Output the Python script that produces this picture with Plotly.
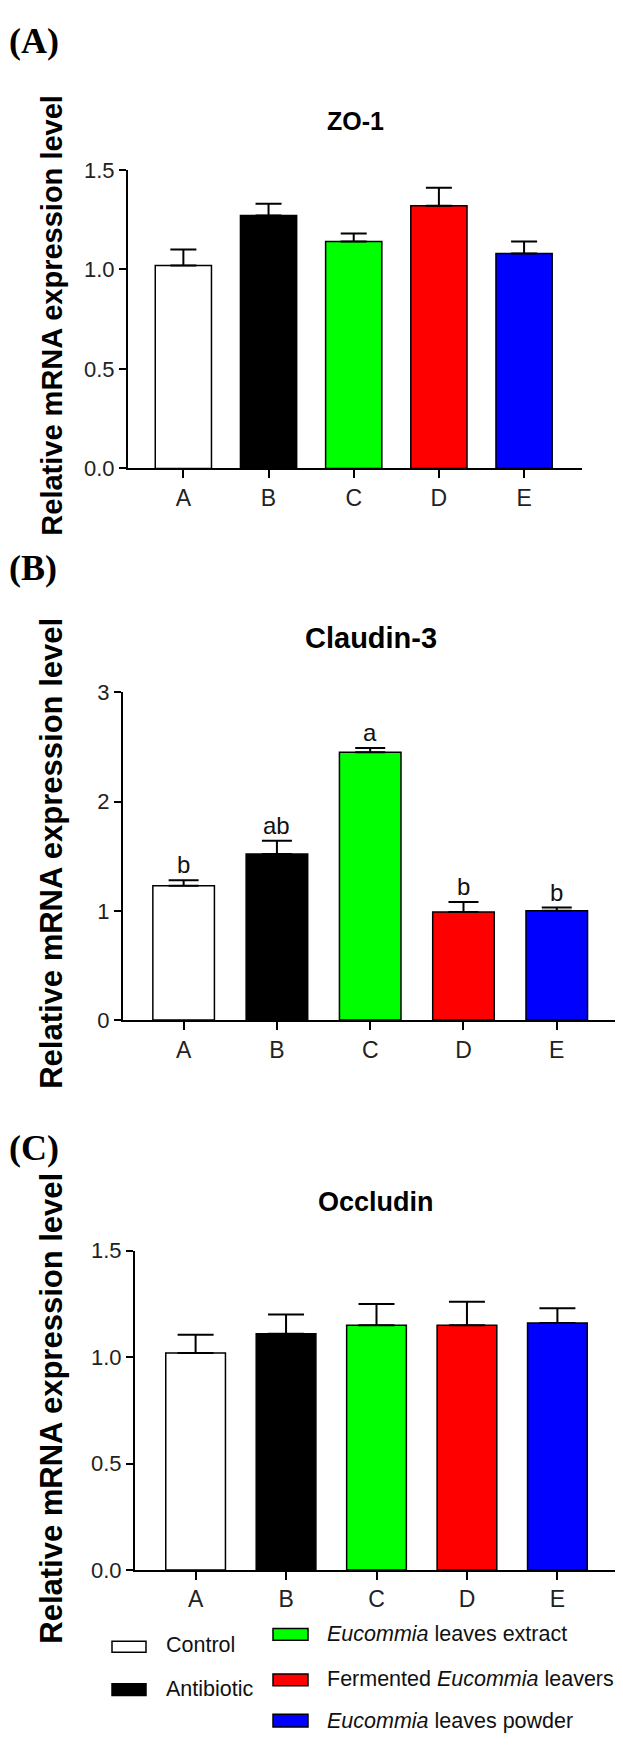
import plotly.graph_objects as go

# The browser adds an 8px body margin around the plot div, so the figure is
# made 8px smaller and page coordinates are shifted by 8px.
OFF = 8
W, H = 623 - OFF, 1747 - OFF

groups = ["A", "B", "C", "D", "E"]
colors = ["#FFFFFF", "#000000", "#00FF00", "#FF0000", "#0000FF"]
legend_labels = ["Control", "Antibiotic", "<i>Eucommia</i> leaves extract",
                 "Fermented <i>Eucommia</i> leavers", "<i>Eucommia</i> leaves powder"]

zo1_mean = [1.02, 1.27, 1.14, 1.32, 1.08]
zo1_err = [0.08, 0.06, 0.04, 0.09, 0.06]

cld3_mean = [1.23, 1.52, 2.45, 0.99, 1.00]
cld3_err = [0.05, 0.12, 0.04, 0.09, 0.03]
cld3_letters = ["b", "ab", "a", "b", "b"]

occ_mean = [1.02, 1.11, 1.15, 1.15, 1.16]
occ_err = [0.085, 0.09, 0.10, 0.11, 0.07]

titles = ["ZO-1", "Claudin-3", "Occludin"]
panel_tags = ["(A)", "(B)", "(C)"]
ytitle = "Relative mRNA expression level"

FONT = "Arial, 'Liberation Sans', sans-serif"
SERIF = "'Times New Roman', 'Liberation Serif', serif"


def px_x(p):
    return (p - OFF) / W


def px_y(p):
    return 1 - (p - OFF) / H


panels = [
    dict(mean=zo1_mean, err=zo1_err, xdom=[px_x(128), px_x(582)], ydom=[px_y(463), px_y(160)],
         xr=[-0.65, 4.68], yr=[0, 1.5], dtick=0.5, fmt=".1f", cap=13,
         title_xy=(355, 110), title_size=25, tag_y=19, yt_y=308, yt_size=29),
    dict(mean=cld3_mean, err=cld3_err, xdom=[px_x(123), 1.0], ydom=[px_y(1022.7), px_y(690)],
         xr=[-0.65, 4.71], yr=[0, 3], dtick=1, fmt="d", cap=15,
         title_xy=(371, 635), title_size=29, tag_y=564, yt_y=854, yt_size=31),
    dict(mean=occ_mean, err=occ_err, xdom=[px_x(135), px_x(618)], ydom=[px_y(1580.5), px_y(1256.7)],
         xr=[-0.67, 4.67], yr=[0, 1.5], dtick=0.5, fmt=".1f", cap=18,
         title_xy=(376, 1207), title_size=27, tag_y=1152, yt_y=1417, yt_size=31),
]

fig = go.Figure()
annotations = []
shapes = []

for i, p in enumerate(panels):
    k = "" if i == 0 else str(i + 1)
    fig.add_trace(go.Bar(
        x=groups, y=p["mean"], width=0.66,
        marker=dict(color=colors, line=dict(color="black", width=1.5)),
        error_y=dict(type="data", symmetric=False, array=p["err"], arrayminus=[0] * 5,
                     color="black", thickness=2, width=p["cap"]),
        xaxis="x" + k, yaxis="y" + k, showlegend=False,
    ))
    axx = dict(domain=p["xdom"], range=p["xr"], anchor="y" + k, showline=True, linecolor="black",
               linewidth=2, ticks="outside", ticklen=8, tickwidth=2, tickcolor="black",
               showgrid=False, zeroline=False, type="category",
               tickfont=dict(family=FONT, size=23, color="#222"))
    axy = dict(domain=p["ydom"], range=p["yr"], anchor="x" + k, showline=True, linecolor="black",
               linewidth=2, ticks="outside", ticklen=7, tickwidth=2, tickcolor="black",
               showgrid=False, zeroline=False, dtick=p["dtick"], tick0=0, tickformat=p["fmt"],
               tickfont=dict(family=FONT, size=22, color="#222"))
    fig.update_layout(**{"xaxis" + k: axx, "yaxis" + k: axy})

    tx, ty = p["title_xy"]
    annotations.append(dict(text=titles[i], x=px_x(tx), y=px_y(ty), xref="paper", yref="paper",
                            xanchor="center", yanchor="middle", showarrow=False,
                            font=dict(family=FONT, size=p["title_size"], color="black", weight="bold")))
    if i == 0:
        tag = dict(y=1.0, yanchor="top")
    else:
        tag = dict(y=px_y(p["tag_y"]), yanchor="middle")
    annotations.append(dict(text=panel_tags[i], x=0, xref="paper", yref="paper",
                            xanchor="left", showarrow=False, borderpad=0,
                            font=dict(family=SERIF, size=36, color="black", weight="bold"), **tag))
    annotations.append(dict(text=ytitle, x=px_x(52), y=px_y(p["yt_y"]), xref="paper", yref="paper",
                            xanchor="center", yanchor="middle", textangle=-90, showarrow=False,
                            font=dict(family=FONT, size=p["yt_size"], color="black", weight="bold")))

# significance letters on Claudin-3
for g, m, e, lt in zip(groups, cld3_mean, cld3_err, cld3_letters):
    annotations.append(dict(text=lt, x=g, y=m + e, xref="x2", yref="y2", xanchor="center",
                            yanchor="bottom", showarrow=False, yshift=0,
                            font=dict(family=FONT, size=24, color="#111")))

# legend (manual, two columns)
leg_boxes = [(112, 146, 1653, 1664), (112, 146, 1696, 1708),
             (273, 308, 1640, 1652), (273, 308, 1686, 1698), (273, 308, 1727, 1740)]
leg_text = [(164, 1657), (164, 1701), (325, 1646), (325, 1691), (325, 1734)]
for (x0, x1, y0, y1), (tx, ty), c, lab in zip(leg_boxes, leg_text, colors, legend_labels):
    shapes.append(dict(type="rect", xref="paper", yref="paper", x0=px_x(x0), x1=px_x(x1),
                       y0=px_y(y1), y1=px_y(y0), fillcolor=c, line=dict(color="black", width=1.5)))
    annotations.append(dict(text=lab, x=px_x(tx), y=px_y(ty), xref="paper", yref="paper",
                            xanchor="left", yanchor="middle", showarrow=False,
                            font=dict(family=FONT, size=21.5, color="#111")))

fig.update_layout(width=W, height=H, margin=dict(l=0, r=0, t=0, b=0),
                  paper_bgcolor="white", plot_bgcolor="white",
                  annotations=annotations, shapes=shapes, bargap=0.34)

fig.write_html("out.html")
